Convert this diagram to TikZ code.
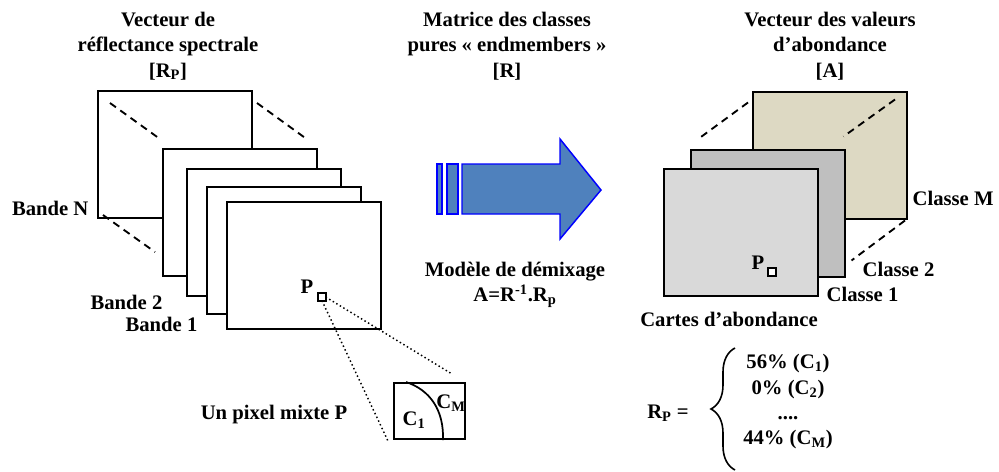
\documentclass[tikz,border=0pt]{standalone}
\usepackage{fontspec}
\setmainfont{Liberation Serif}
\usetikzlibrary{calc,decorations.pathreplacing}
\definecolor{arrowfill}{RGB}{79,129,189}
\definecolor{mapone}{RGB}{217,217,217}
\definecolor{maptwo}{RGB}{191,191,191}
\definecolor{mapm}{RGB}{221,217,195}

\begin{document}
\begin{tikzpicture}[
  x=0.75pt, y=-0.75pt,
  every node/.style={font=\fontsize{15.5}{19}\selectfont\bfseries, inner sep=1pt},
  band/.style={draw, fill=white, line width=1.5pt, minimum width=115.5pt, minimum height=95.25pt, inner sep=0pt, outer sep=0pt},
  pix/.style={draw, fill=white, line width=1.4pt, minimum size=5.5pt, inner sep=0pt, outer sep=0pt},
  guide/.style={dashed, dash pattern=on 5.5pt off 4pt, line width=1.4pt},
  zoomline/.style={dotted, line width=1.1pt},
  title/.style={align=center},
]
\useasboundingbox (0,0) rectangle (999,471);

% bandes spectrales
\node[band] (bandN) at (175,154.5) {};
\node[band] (band2) at (240,212.5) {};
\node[band] (band3) at (263.5,232.5) {};
\node[band] (band4) at (284,250) {};
\node[band] (band1) at (304,265.5) {};
\draw[guide] ([shift={(12,12)}]bandN.north west) -- ([shift={(-3,-10)}]band2.north west);
\draw[guide] ([shift={(5,12)}]bandN.north east) -- ([shift={(-9,-9)}]band2.north east);
\draw[guide] ([shift={(5,-3)}]bandN.south west) -- ([shift={(-8,-24)}]band2.south west);

\node[title] (titleL) at (168,46) {Vecteur de\\r\'eflectance spectrale\\{[R\textsubscript{P}]}};
\node[anchor=east] (lblN) at (90,208) {Bande N};
\node[anchor=east] (lbl2) at (164,302) {Bande 2};
\node[anchor=east] (lbl1) at (199,324) {Bande 1};

% pixel mixte
\node[pix] (pixL) at (322,297) {};
\node (pL) at (307,287) {P};
\node[draw, line width=1.5pt, minimum width=53.25pt, minimum height=42pt, inner sep=0pt] (inset) at (429.5,411) {};
\draw[line width=1.3pt] ([shift={(13,0)}]inset.north west) .. controls (430,390) and (444,410) .. ([shift={(50,0)}]inset.south west);
\node (c1) at (414,420) {C\textsubscript{1}};
\node (cm) at (451,403) {C\textsubscript{M}};
\draw[zoomline] (pixL.south) -- ([shift={(-5,1)}]inset.south west);
\draw[zoomline] (pixL.east) -- ([shift={(-14,-8)}]inset.north east);
\node (lblpix) at (274,415) {Un pixel mixte P};

% fleche
\node[title] (titleM) at (507,46) {Matrice des classes\\pures \guillemotleft{} endmembers \guillemotright\\{[R]}};
\draw[blue, fill=arrowfill, line width=1.1pt] (437,164) rectangle (442,214);
\draw[blue, fill=arrowfill, line width=1.1pt] (447,164) rectangle (458,214);
\draw[blue, fill=arrowfill, line width=1.1pt] (462,164) -- (560,164) -- (560,139) -- (601,190) -- (560,239) -- (560,214) -- (462,214) -- cycle;
\node[title] (model) at (515,285) {Mod\`ele de d\'emixage\\A=R\textsuperscript{-1}.R\textsubscript{p}};

% cartes d'abondance
\node[band, fill=mapm] (mapM) at (830,155) {};
\node[band, fill=maptwo] (map2) at (767.5,213) {};
\node[band, fill=mapone] (map1) at (740.5,232.5) {};
\draw[guide] ([shift={(-5,11)}]mapM.north west) -- ([shift={(7,-10)}]map2.north west);
\draw[guide] ([shift={(-12,8)}]mapM.north east) -- ([shift={(-1,-13)}]map2.north east);
\draw[guide] ([shift={(-2,2)}]mapM.south east) -- ([shift={(7,-16)}]map2.south east);
\node[pix] (pixR) at (772,272) {};
\node (pR) at (758,263) {P};

\node[title] (titleR) at (830,46) {Vecteur des valeurs\\d'abondance\\{[A]}};
\node[anchor=west] (lblM) at (911,198) {Classe M};
\node[anchor=west] (lblc2) at (861,269) {Classe 2};
\node[anchor=west] (lblc1) at (825,294) {Classe 1};
\node (cartes) at (729,319) {Cartes d'abondance};

% vecteur du pixel
\node (rp) at (668,413) {R\textsubscript{P} =};
\draw[decorate, decoration={brace, amplitude=18pt}, line width=1.2pt] (735,470) -- (735,348);
\node[title] (values) at (788,402) {56\% (C\textsubscript{1})\\0\% (C\textsubscript{2})\\....\\44\% (C\textsubscript{M})};
\end{tikzpicture}
\end{document}
